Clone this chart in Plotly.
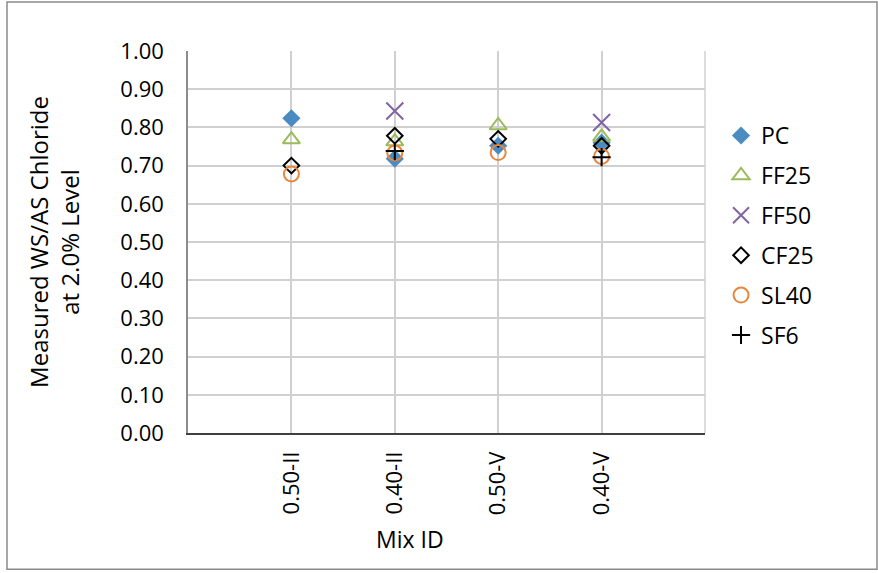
import plotly.graph_objects as go

mix_ids = ["0.50-II", "0.40-II", "0.50-V", "0.40-V"]
pc = [0.824, 0.718, 0.752, 0.760]
ff25 = [0.768, 0.763, 0.805, 0.775]
ff50 = [None, 0.843, None, 0.813]
cf25 = [0.700, 0.778, 0.770, 0.752]
sl40 = [0.678, 0.733, 0.734, 0.724]
sf6 = [None, 0.738, None, 0.722]

y_ticks = [0.0, 0.1, 0.2, 0.3, 0.4, 0.5, 0.6, 0.7, 0.8, 0.9, 1.0]

FONT = "Open Sans, Lato, sans-serif"

series = [
    ("PC", pc, dict(symbol="diamond", size=14, color="#4a8cc2", line=dict(width=0))),
    ("FF25", ff25, dict(symbol="triangle-up-open", size=15, color="#9bbb59", line=dict(width=2, color="#9bbb59"))),
    ("FF50", ff50, dict(symbol="x-thin-open", size=17, color="#8064a2", line=dict(width=2, color="#8064a2"))),
    ("CF25", cf25, dict(symbol="diamond-open", size=12, color="#000000", line=dict(width=2, color="#000000"))),
    ("SL40", sl40, dict(symbol="circle-open", size=15, color="#e8863a", line=dict(width=2, color="#e8863a"))),
    ("SF6", sf6, dict(symbol="cross-thin-open", size=13, color="#000000", line=dict(width=2, color="#000000"))),
]

fig = go.Figure()
for i, (name, vals, marker) in enumerate(series):
    fig.add_trace(go.Scatter(
        x=mix_ids, y=vals, name=name, mode="markers", marker=marker,
        legendgroup=f"g{i}",
    ))

fig.update_layout(
    width=878, height=573,
    margin=dict(l=188, r=173, t=51, b=139.5),
    paper_bgcolor="white", plot_bgcolor="white",
    font=dict(family=FONT, size=22, color="#000000"),
    showlegend=True,
    legend=dict(x=1.031, y=0.835, xanchor="left", yanchor="top",
                traceorder="grouped", tracegroupgap=7,
                font=dict(family=FONT, size=23), bgcolor="rgba(0,0,0,0)",
                itemwidth=30),
    xaxis=dict(
        type="category", categoryorder="array", categoryarray=mix_ids,
        range=[-1, 4], tickangle=-90,
        showgrid=True, gridcolor="#d0d0d0", gridwidth=1.5,
        showline=True, linecolor="#404040", linewidth=1.5,
        ticks="", ticklabelstandoff=8, tickfont=dict(size=22),
        zeroline=False,
    ),
    yaxis=dict(
        range=[0, 1.0], tickvals=y_ticks, tickformat=".2f",
        showgrid=True, gridcolor="#d0d0d0", gridwidth=1.5,
        showline=True, linecolor="#8c8c8c", linewidth=1.5,
        ticks="", ticklabelstandoff=18, zeroline=False, tickfont=dict(size=22),
        title=dict(text="Measured WS/AS Chloride<br>at 2.0% Level",
                   font=dict(family=FONT, size=24), standoff=34),
    ),
    annotations=[
        dict(text="Mix ID", xref="paper", yref="paper",
             x=(410 - 188) / 517, y=(433.5 - 540) / 382.5,
             xanchor="center", yanchor="middle", showarrow=False,
             font=dict(family=FONT, size=23, color="#000000")),
    ],
    shapes=[
        dict(type="line", xref="paper", yref="paper", x0=1, x1=1, y0=0, y1=1,
             line=dict(color="#d0d0d0", width=1.5)),
        dict(type="rect", xref="paper", yref="paper",
             x0=(7 - 188) / 517, x1=(877 - 188) / 517,
             y0=(433.5 - 570) / 382.5, y1=(433.5 - 2) / 382.5,
             line=dict(color="#8a8a8a", width=1.5), layer="below"),
    ],
)

fig.write_html("out.html", config={"displayModeBar": False},
               post_script="document.body.style.margin='0';document.body.style.overflow='hidden';")
